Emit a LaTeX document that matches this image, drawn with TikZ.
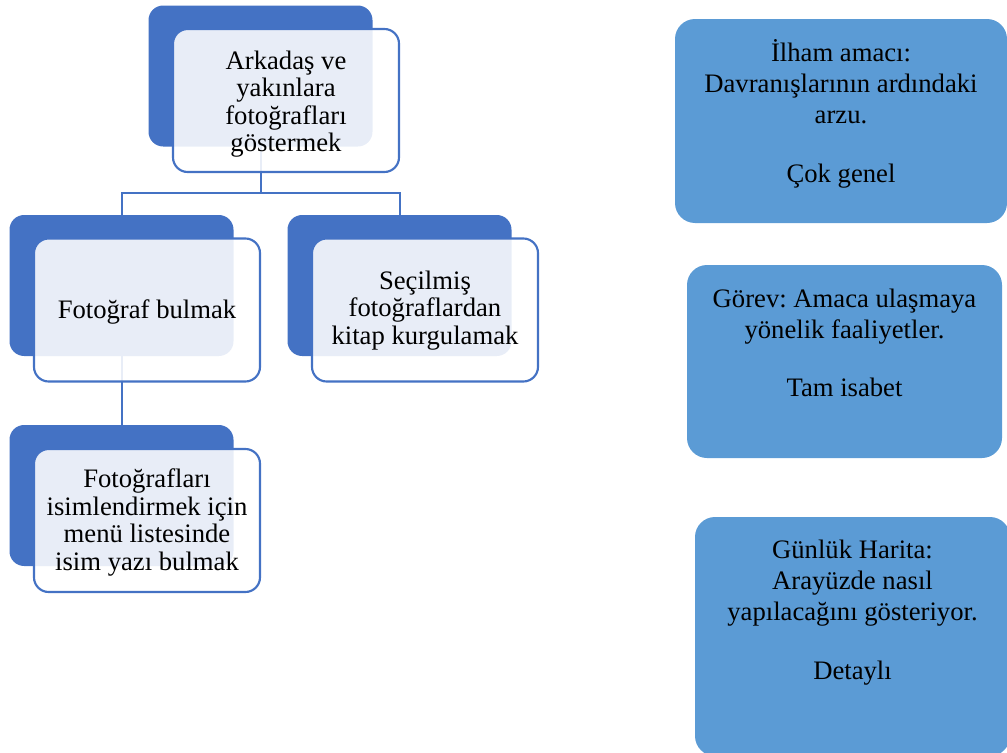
\documentclass[tikz,border=0pt]{standalone}
\usepackage{fontspec}
\setmainfont{Liberation Serif}
\frenchspacing
\definecolor{dkblue}{HTML}{4472C4}
\definecolor{ltblue}{HTML}{5B9BD5}
\begin{document}
\begin{tikzpicture}[x=0.75pt,y=-0.75pt,
  backbox/.style={fill=dkblue, rounded corners=11pt, minimum width=168pt, minimum height=105.75pt, inner sep=0pt, outer sep=0pt},
  frontbox/.style={draw=dkblue, line width=1.6pt, fill=white, fill opacity=0.88, rounded corners=11pt, minimum width=169.5pt, minimum height=107.25pt, inner sep=0pt, outer sep=0pt},
  fronttext/.style={inner sep=0pt, outer sep=0pt, align=center, font=\fontsize{20}{20.6}\selectfont},
  conn/.style={draw=dkblue, line width=1.5pt},
  infobox/.style={fill=ltblue, rounded corners=15pt, inner sep=0pt, outer sep=0pt},
  infotext/.style={anchor=base, inner sep=0pt, outer sep=0pt, font=\fontsize{20}{23.6}\selectfont}]
\useasboundingbox (0,0) rectangle (1007,753);

% back boxes
\node[backbox] (b0) at (260.5,76) {};
\node[backbox] (b1) at (121.5,285.5) {};
\node[backbox] (b2) at (399.5,285.5) {};
\node[backbox] (b3) at (121.5,495.5) {};

% connectors
\coordinate (j) at (260.5,193);
\draw[conn] (b0.south) -- (j);
\draw[conn] (b1.north) |- (j) -| (b2.north);
\draw[conn] (b1.south) -- (b3.north);

% front boxes
\node[frontbox] (f0) at (286,100.5) {};
\node[frontbox] (f1) at (147,310) {};
\node[frontbox] (f2) at (425,310) {};
\node[frontbox] (f3) at (147,520.5) {};

\node[fronttext] (x0) at (286,104) {Arkadaş ve\\yakınlara\\fotoğrafları\\göstermek};
\node[fronttext] (x1) at (147,312) {Fotoğraf bulmak};
\node[fronttext] (x2) at (425,310.5) {Seçilmiş\\fotoğraflardan\\kitap kurgulamak};
\node[fronttext] (x3) at (147,522.5) {Fotoğrafları\\isimlendirmek için\\menü listesinde\\isim yazı bulmak};

% info boxes
\node[infobox, minimum width=249pt, minimum height=153pt] (r1) at (841,121) {};
\node[infobox, minimum width=236.25pt, minimum height=144.75pt] (r2) at (844.5,361.5) {};
\node[infobox, minimum width=236.25pt, minimum height=179.25pt] (r3) at (852.5,636.5) {};

\node[infotext] (t1) at (841,61) {\parbox[t]{240pt}{\centering İlham amacı:\\Davranışlarının ardındaki\\arzu.\\[20pt]Çok genel}};
\node[infotext] (t2) at (844.5,307) {\parbox[t]{230pt}{\centering Görev: Amaca ulaşmaya\\yönelik faaliyetler.\\[20pt]Tam isabet}};
\node[infotext] (t3) at (852.5,558) {\parbox[t]{230pt}{\centering Günlük Harita:\\Arayüzde nasıl\\yapılacağını gösteriyor.\\[20pt]Detaylı}};
\end{tikzpicture}
\end{document}
